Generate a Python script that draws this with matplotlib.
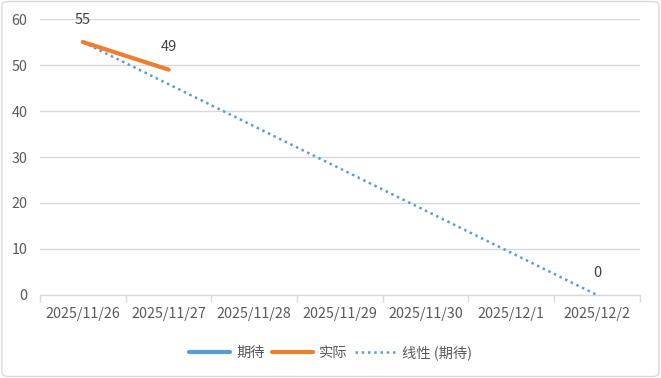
import matplotlib.pyplot as plt
import numpy as np
from matplotlib.patches import FancyBboxPatch

plt.rcParams['font.family'] = ['Noto Sans CJK SC', 'DejaVu Sans']

dates = ['2025/11/26', '2025/11/27', '2025/11/28', '2025/11/29',
         '2025/11/30', '2025/12/1', '2025/12/2']
expected = [55, np.nan, np.nan, np.nan, np.nan, np.nan, 0]
actual = [55, 49, np.nan, np.nan, np.nan, np.nan, np.nan]

blue = '#5B9BD5'
orange = '#ED7D31'
grey = '#595959'

fig = plt.figure(figsize=(6.61, 3.78), dpi=100)
fig.patches.append(FancyBboxPatch((0.003, 0.004), 0.994, 0.992, boxstyle='round,pad=0,rounding_size=0.01',
                                  transform=fig.transFigure, fc='none', ec='#D9D9D9', lw=1, zorder=-1))
ax = fig.add_axes([0.0605, 0.2196, 0.9075, 0.7301])
ax.patch.set_alpha(0)

x = np.arange(len(dates))
exp = np.array(expected, dtype=float)
act = np.array(actual, dtype=float)

# trendline from the expected points
ok = ~np.isnan(exp)
k, b = np.polyfit(x[ok], exp[ok], 1)
xt = np.array([x[0], x[-1]])
ax.plot(xt, k * xt + b, ls=(0, (1, 1.5)), color=blue, lw=1.8, label='线性 (期待)', zorder=3)

ax.plot(x, exp, color=blue, lw=3, label='期待', solid_capstyle='round', zorder=4)
ax.plot(x, act, color=orange, lw=3, label='实际', solid_capstyle='round', zorder=5)

for xi, v in zip(x, exp):
    if not np.isnan(v):
        ax.annotate(f'{v:g}', (xi, v), xytext=(0, 11), textcoords='offset points',
                    ha='center', va='bottom', fontsize=10.5, color='#404040')
for xi, v in zip(x[1:], act[1:]):
    if not np.isnan(v):
        ax.annotate(f'{v:g}', (xi, v), xytext=(0, 11), textcoords='offset points',
                    ha='center', va='bottom', fontsize=10.5, color='#404040')

ax.set_xlim(-0.5, len(dates) - 0.5)
ax.set_ylim(0, 60)
ax.set_yticks(range(0, 61, 10))
ax.set_xticks(x)
ax.set_xticklabels(dates)
ax.set_xticks(np.arange(-0.5, len(dates)), minor=True)
ax.tick_params(axis='x', which='major', length=0, pad=9, labelsize=10.3, colors=grey)
ax.tick_params(axis='x', which='minor', length=5, color='#D9D9D9', width=1)
ax.tick_params(axis='y', length=0, pad=9, labelsize=10.3, colors=grey)
ax.grid(axis='y', color='#D9D9D9', lw=1)
ax.set_axisbelow(True)
for s in ['top', 'right', 'left']:
    ax.spines[s].set_visible(False)
ax.spines['bottom'].set_color('#D9D9D9')
ax.spines['bottom'].set_linewidth(1)

h, l = ax.get_legend_handles_labels()
order = [1, 2, 0]
leg = fig.legend([h[i] for i in order], [l[i] for i in order], loc='center', bbox_to_anchor=(0.5, 0.068),
                 ncol=3, frameon=False, fontsize=10.3, handlelength=2.9, handletextpad=0.4, columnspacing=0.5)
for t in leg.get_texts():
    t.set_color(grey)

fig.savefig('out.png', dpi=100)
